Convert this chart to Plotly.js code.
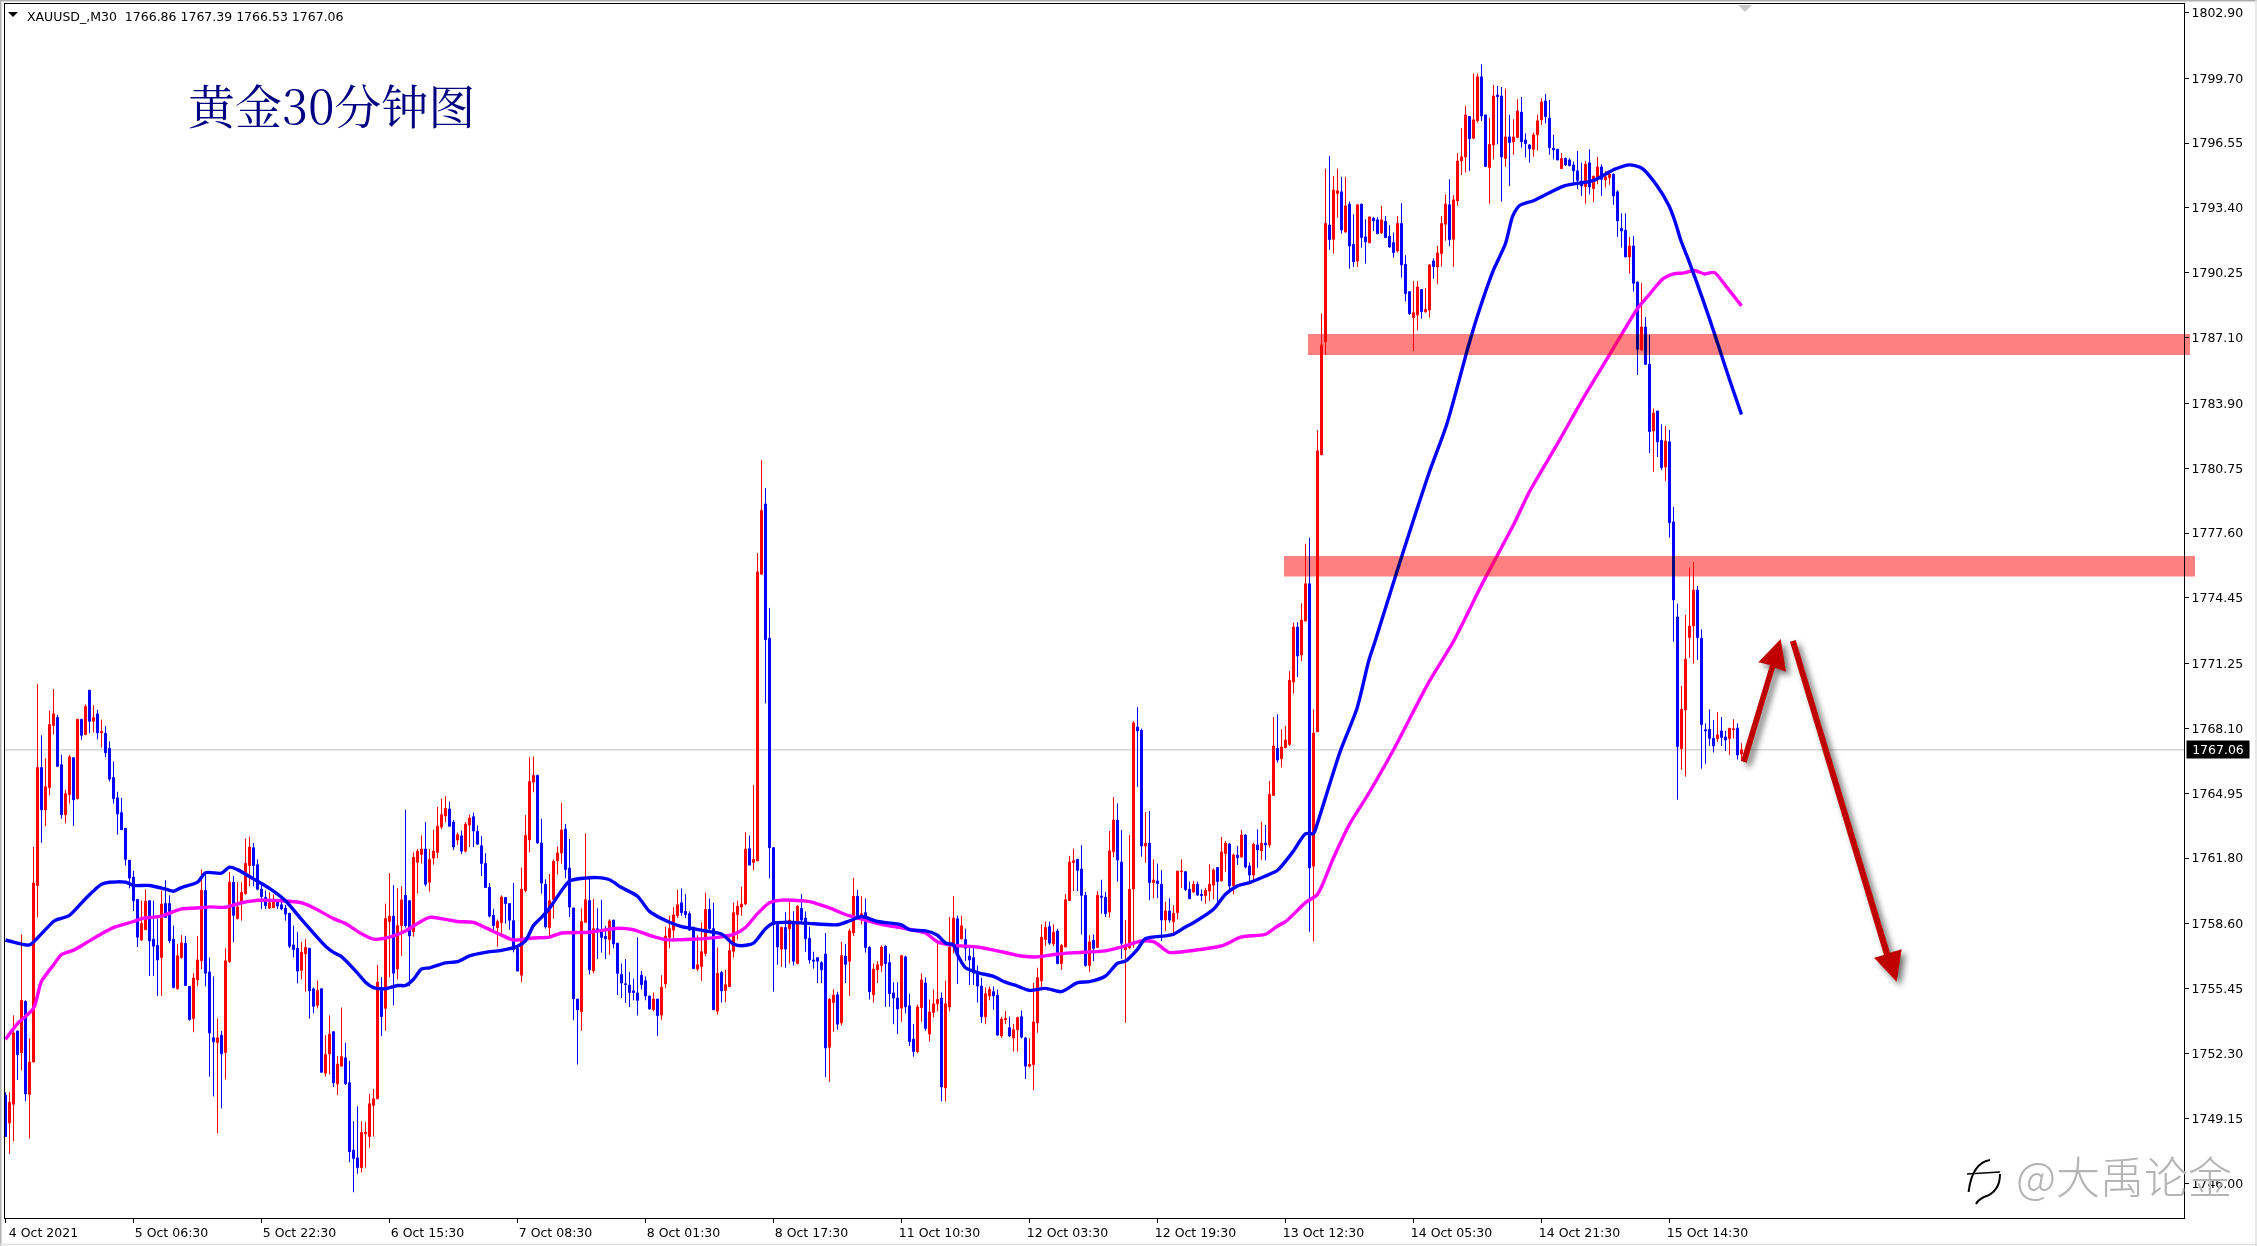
<!DOCTYPE html>
<html><head><meta charset="utf-8">
<script src="https://cdn.plot.ly/plotly-3.0.1.min.js"></script>
<style>html,body{margin:0;padding:0;background:#fff}#c{width:2257px;height:1246px}</style>
</head><body><div id="c"></div>
<script>
const openPrices=[
1750.28,1748.93,1749.84,1753.40,1752.35,1754.84,1750.32,1751.89,1760.47,1766.20,
1764.15,1765.23,1768.25,1768.63,1766.34,1763.91,1764.89,1766.68,1764.69,1768.55,
1767.81,1769.96,1768.45,1768.81,1767.89,1767.87,1767.14,1765.72,1764.73,1764.01,
1763.25,1761.70,1760.87,1759.79,1757.82,1758.32,1759.73,1757.86,1757.56,1756.97,
1759.59,1759.59,1757.86,1755.45,1756.97,1757.66,1755.57,1754.00,1755.89,1756.81,
1760.23,1756.27,1753.07,1752.83,1753.19,1752.35,1756.77,1760.63,1758.86,1759.59,
1760.07,1761.44,1762.30,1761.48,1760.29,1759.89,1759.37,1759.39,1759.73,1759.53,
1759.37,1759.12,1757.58,1757.42,1756.35,1757.15,1757.42,1755.45,1754.64,1755.45,
1751.35,1752.29,1753.36,1750.82,1751.69,1752.09,1750.88,1747.61,1747.23,1746.76,
1748.41,1748.27,1749.78,1750.10,1755.51,1754.50,1758.72,1758.98,1756.41,1758.52,
1759.99,1759.73,1758.22,1761.60,1761.98,1762.24,1760.63,1761.80,1762.08,1763.31,
1763.85,1764.19,1763.55,1762.68,1762.88,1762.14,1763.41,1763.81,1763.10,1762.40,
1761.54,1760.39,1759.02,1758.42,1758.66,1759.89,1759.59,1758.76,1757.42,1756.11,
1760.23,1762.68,1765.50,1765.82,1762.54,1760.53,1758.42,1759.79,1761.67,1762.05,
1763.21,1761.32,1759.38,1754.95,1754.34,1758.68,1759.74,1756.32,1758.37,1758.32,
1757.99,1757.84,1758.79,1757.67,1756.15,1755.69,1755.63,1755.35,1755.25,1756.11,
1755.84,1755.10,1754.43,1754.95,1754.17,1755.69,1757.95,1758.30,1759.00,1759.63,
1759.21,1759.10,1758.43,1756.41,1756.53,1757.17,1759.31,1758.37,1754.36,1756.24,
1755.37,1755.56,1757.27,1759.06,1759.42,1759.57,1762.26,1761.59,1761.67,1775.60,
1779.01,1772.48,1762.31,1758.58,1757.38,1758.43,1758.37,1758.72,1756.68,1759.36,
1758.89,1757.90,1756.85,1756.96,1756.72,1757.14,1752.61,1754.78,1755.16,1753.79,
1757.04,1756.79,1758.16,1759.95,1759.00,1759.15,1757.46,1755.16,1756.37,1756.58,
1757.52,1756.72,1755.25,1755.00,1754.51,1757.00,1754.62,1753.00,1752.40,1754.53,
1755.73,1753.25,1754.30,1754.72,1755.00,1750.63,1754.57,1757.48,1758.85,1757.88,
1757.84,1757.04,1756.96,1756.15,1755.58,1754.09,1755.10,1755.31,1755.14,1753.16,
1753.94,1753.56,1753.06,1753.46,1754.09,1753.06,1751.69,1751.77,1753.79,1755.84,
1757.84,1758.47,1757.63,1758.26,1756.68,1757.48,1759.74,1761.59,1761.74,1761.27,
1759.99,1756.58,1757.80,1757.46,1759.95,1759.90,1759.18,1762.11,1763.64,1761.61,
1757.35,1757.45,1760.30,1768.17,1768.01,1762.39,1762.52,1760.61,1760.69,1760.53,
1758.79,1759.23,1758.71,1759.15,1761.13,1761.14,1760.28,1760.15,1760.53,1760.04,
1759.98,1760.20,1760.49,1761.34,1760.69,1762.02,1762.49,1760.45,1761.95,1761.85,
1762.92,1761.42,1760.98,1762.44,1762.15,1762.53,1762.44,1764.85,1767.14,1766.63,
1767.17,1767.33,1770.36,1773.03,1771.67,1773.32,1775.13,1761.41,1767.94,1781.40,
1786.90,1792.57,1791.88,1794.10,1794.18,1792.23,1793.58,1791.63,1790.82,1793.58,
1791.99,1791.71,1792.90,1792.82,1792.18,1792.75,1792.02,1791.71,1791.31,1792.64,
1790.66,1789.33,1788.07,1788.20,1789.43,1788.35,1788.44,1790.82,1790.53,1791.18,
1792.61,1793.55,1791.88,1793.74,1795.68,1795.88,1797.84,1796.79,1797.63,1799.77,
1797.92,1795.36,1796.46,1798.89,1798.84,1795.80,1796.85,1796.61,1796.82,1798.06,
1796.70,1796.46,1796.25,1796.95,1797.68,1798.60,1797.76,1796.30,1796.25,1795.31,
1795.80,1795.73,1795.49,1795.20,1794.71,1794.44,1795.59,1794.34,1794.87,1795.39,
1794.76,1794.87,1795.04,1794.18,1792.41,1792.31,1791.02,1791.55,1789.80,1786.50,
1787.61,1785.80,1782.56,1783.53,1782.11,1780.81,1782.03,1778.14,1773.52,1767.12,
1769.00,1772.52,1773.08,1774.83,1772.48,1768.04,1768.06,1767.62,1767.61,1767.98,
1767.69,1767.61,1768.04,1768.11,1766.86];
const highPrices=[
1750.42,1750.42,1754.16,1753.40,1758.10,1754.88,1753.03,1762.34,1770.26,1767.77,
1766.66,1768.97,1770.02,1768.77,1766.82,1765.13,1766.82,1766.68,1768.55,1768.55,
1769.27,1769.96,1769.23,1769.01,1768.53,1768.21,1767.47,1766.50,1765.03,1764.73,
1763.25,1761.70,1761.19,1759.79,1759.73,1760.27,1759.73,1759.73,1758.86,1760.23,
1760.73,1759.99,1758.52,1757.62,1758.06,1758.02,1755.57,1756.21,1758.02,1761.24,
1761.03,1756.97,1756.05,1754.00,1753.40,1757.42,1761.13,1760.93,1760.63,1760.63,
1762.74,1762.84,1762.54,1761.74,1760.63,1760.23,1760.13,1760.03,1759.73,1759.73,
1759.53,1759.12,1758.52,1758.22,1757.72,1757.86,1757.42,1755.51,1755.85,1755.45,
1753.19,1754.16,1753.40,1752.19,1754.54,1752.83,1751.95,1749.01,1749.74,1749.01,
1748.97,1750.34,1750.58,1756.61,1756.01,1759.59,1761.07,1760.49,1760.33,1760.43,
1764.15,1759.73,1762.08,1762.24,1762.90,1763.55,1762.24,1763.18,1764.29,1764.69,
1764.81,1764.55,1763.65,1763.04,1763.14,1763.55,1763.91,1764.01,1763.39,1762.88,
1762.04,1760.59,1759.33,1758.82,1759.99,1759.89,1759.59,1760.59,1757.42,1761.34,
1763.89,1766.70,1766.74,1765.86,1763.71,1760.77,1761.03,1761.74,1762.37,1764.48,
1763.46,1762.73,1759.38,1754.95,1759.36,1763.00,1760.79,1759.80,1759.36,1759.78,
1758.51,1758.83,1758.79,1757.67,1756.68,1756.89,1756.26,1755.94,1757.95,1756.32,
1756.05,1755.10,1755.27,1754.95,1756.11,1758.47,1759.00,1759.42,1760.26,1760.33,
1760.05,1759.21,1758.47,1758.05,1758.68,1760.12,1759.84,1759.63,1757.46,1756.32,
1756.37,1757.95,1759.63,1759.73,1760.41,1763.06,1762.90,1765.36,1776.63,1781.14,
1779.79,1773.96,1762.31,1758.58,1758.47,1759.17,1759.69,1759.21,1759.52,1760.05,
1759.21,1758.47,1757.25,1756.96,1756.79,1758.16,1755.00,1755.42,1755.31,1757.73,
1757.63,1758.37,1760.83,1760.26,1759.95,1759.84,1757.52,1756.68,1756.79,1757.56,
1757.56,1757.14,1755.77,1755.77,1757.10,1757.06,1755.21,1753.73,1754.68,1756.20,
1756.00,1754.93,1755.42,1757.73,1755.27,1755.84,1758.94,1759.95,1759.00,1759.00,
1758.37,1757.52,1757.52,1756.58,1755.98,1755.52,1755.56,1755.56,1755.42,1754.09,
1754.36,1754.09,1753.73,1754.09,1754.40,1753.10,1753.04,1755.73,1756.47,1758.58,
1758.72,1758.72,1758.58,1758.37,1757.63,1760.05,1761.91,1762.26,1761.74,1762.43,
1760.16,1758.05,1758.09,1760.20,1760.75,1760.16,1763.12,1764.77,1764.46,1763.17,
1758.79,1762.92,1768.46,1769.14,1768.09,1764.04,1764.09,1761.74,1761.53,1761.21,
1759.67,1759.85,1759.51,1761.17,1761.74,1761.17,1760.66,1760.69,1760.66,1760.28,
1760.36,1761.50,1761.30,1761.37,1762.83,1762.63,1762.52,1762.02,1762.39,1763.17,
1762.96,1761.58,1762.55,1763.20,1763.56,1763.41,1765.55,1768.66,1768.79,1768.06,
1768.22,1770.89,1773.24,1773.27,1774.18,1777.08,1777.37,1769.03,1782.60,1788.26,
1795.31,1795.93,1794.95,1795.31,1794.91,1794.91,1793.71,1793.09,1793.58,1793.61,
1792.85,1792.98,1792.96,1792.96,1793.50,1793.01,1792.56,1792.20,1793.01,1793.63,
1791.10,1789.33,1789.85,1789.85,1789.43,1789.50,1790.66,1790.95,1791.55,1793.01,
1794.06,1794.79,1794.03,1796.06,1797.27,1798.36,1797.87,1799.93,1799.93,1800.38,
1797.92,1797.79,1799.38,1799.33,1799.28,1799.20,1797.92,1797.71,1798.68,1798.79,
1797.03,1796.49,1797.06,1797.92,1798.73,1798.94,1798.65,1796.95,1796.25,1796.07,
1795.85,1795.81,1795.65,1796.17,1795.59,1795.68,1796.25,1794.96,1795.88,1795.52,
1795.20,1795.12,1795.07,1794.26,1793.14,1793.14,1791.99,1792.04,1789.80,1789.74,
1788.10,1787.23,1783.65,1783.53,1782.88,1782.80,1782.61,1778.87,1774.17,1770.17,
1773.62,1775.92,1776.19,1775.03,1772.92,1768.35,1769.03,1768.51,1768.90,1768.66,
1767.98,1768.11,1768.55,1768.35,1767.39];
const lowPrices=[
1748.27,1747.43,1748.03,1751.02,1751.49,1749.98,1748.17,1751.89,1758.92,1762.54,
1763.35,1764.85,1767.81,1766.26,1763.71,1763.49,1764.45,1763.37,1764.65,1767.55,
1767.77,1767.87,1767.91,1767.57,1767.18,1766.70,1765.52,1764.45,1762.94,1763.18,
1761.44,1760.33,1759.23,1757.48,1757.78,1758.32,1756.07,1756.07,1755.10,1755.10,
1758.92,1757.66,1755.47,1755.41,1756.91,1755.61,1753.90,1753.34,1755.57,1756.41,
1755.57,1751.18,1750.22,1748.41,1749.64,1751.04,1756.71,1757.72,1758.82,1758.76,
1760.03,1760.43,1760.43,1760.23,1759.33,1759.33,1759.33,1759.39,1759.33,1759.27,
1758.76,1757.42,1756.97,1755.71,1755.91,1755.31,1754.00,1754.26,1754.50,1751.39,
1751.18,1751.29,1750.68,1750.28,1751.69,1750.78,1747.02,1745.56,1746.46,1746.52,
1746.76,1747.73,1748.27,1750.10,1753.15,1753.40,1756.01,1754.64,1755.91,1757.05,
1758.42,1755.57,1757.98,1760.07,1761.54,1760.43,1760.17,1761.48,1761.80,1763.20,
1763.55,1763.35,1762.20,1762.44,1762.00,1762.08,1762.34,1762.34,1762.44,1760.93,
1760.37,1758.92,1758.28,1757.48,1758.12,1758.62,1758.32,1757.22,1756.31,1755.77,
1760.13,1762.08,1765.00,1762.50,1760.07,1758.38,1757.98,1758.86,1761.00,1761.53,
1760.83,1758.94,1753.92,1751.77,1753.41,1758.68,1756.15,1756.20,1756.89,1757.21,
1756.89,1757.10,1757.42,1755.16,1755.00,1754.76,1754.57,1754.89,1754.15,1755.42,
1754.89,1754.43,1754.36,1753.16,1753.94,1755.48,1757.42,1757.73,1758.89,1759.00,
1758.89,1758.26,1756.41,1756.32,1755.84,1757.04,1758.26,1754.43,1754.19,1754.78,
1754.80,1755.52,1756.96,1757.84,1759.00,1759.52,1761.46,1761.21,1761.67,1775.60,
1769.32,1760.83,1755.31,1756.62,1756.51,1756.47,1756.68,1756.58,1756.64,1758.72,
1757.25,1756.68,1756.43,1755.73,1755.73,1751.16,1750.93,1753.37,1753.46,1753.67,
1755.73,1755.10,1758.01,1758.89,1758.58,1757.21,1754.93,1754.78,1755.73,1756.26,
1754.57,1754.57,1753.73,1753.25,1753.84,1754.26,1752.68,1752.15,1752.32,1753.84,
1753.41,1752.89,1754.05,1754.36,1749.98,1749.98,1754.36,1757.17,1755.69,1757.84,
1756.79,1755.63,1755.63,1754.78,1753.79,1753.73,1754.89,1754.43,1753.16,1753.06,
1753.73,1753.10,1752.40,1752.40,1753.04,1751.06,1751.62,1750.53,1753.31,1755.52,
1757.52,1757.59,1757.52,1756.64,1756.37,1757.48,1759.74,1760.20,1760.20,1758.09,
1756.53,1756.26,1756.79,1757.42,1759.10,1758.94,1758.91,1761.85,1760.66,1756.91,
1753.80,1757.37,1757.45,1765.26,1761.87,1761.58,1759.75,1759.85,1759.85,1757.77,
1758.26,1758.66,1758.02,1758.82,1760.36,1760.20,1759.80,1760.12,1759.96,1759.72,
1759.59,1759.72,1759.80,1759.55,1760.69,1761.14,1760.23,1760.04,1761.47,1761.82,
1761.30,1760.61,1760.72,1761.34,1761.71,1761.69,1762.31,1764.82,1766.44,1766.20,
1767.14,1767.25,1769.79,1770.60,1771.38,1773.32,1758.22,1757.74,1767.94,1781.40,
1786.26,1791.36,1791.18,1792.93,1792.15,1792.20,1790.45,1790.53,1790.53,1791.47,
1790.69,1791.67,1792.28,1792.12,1792.15,1791.93,1791.47,1790.99,1791.23,1790.01,
1788.85,1788.20,1786.45,1787.45,1788.02,1788.31,1788.07,1789.96,1789.69,1790.55,
1791.80,1791.55,1790.53,1793.50,1795.00,1795.12,1795.20,1796.74,1797.55,1797.63,
1795.39,1793.61,1795.76,1796.49,1793.71,1795.39,1794.47,1795.98,1796.79,1796.33,
1795.85,1795.60,1795.89,1796.20,1797.43,1797.51,1795.98,1795.76,1795.72,1795.28,
1795.44,1795.41,1794.63,1794.31,1793.98,1793.61,1794.06,1793.69,1794.55,1793.98,
1794.39,1794.52,1793.55,1791.99,1791.47,1790.99,1790.21,1789.33,1785.28,1786.45,
1785.77,1781.49,1780.58,1781.30,1780.65,1780.13,1777.38,1772.32,1764.64,1766.09,
1765.76,1771.54,1771.25,1771.43,1766.15,1766.39,1767.25,1766.93,1767.45,1767.25,
1767.01,1766.81,1767.62,1766.59,1766.53];
const closePrices=[
1748.27,1749.94,1753.30,1752.25,1754.88,1750.34,1751.89,1760.59,1766.20,1764.15,
1765.27,1768.29,1768.81,1766.26,1763.91,1764.93,1766.72,1764.63,1768.55,1767.77,
1769.17,1768.45,1768.63,1767.89,1767.95,1766.92,1765.64,1764.69,1763.95,1763.18,
1761.74,1760.83,1759.73,1757.96,1758.62,1759.71,1757.78,1757.52,1756.85,1759.57,
1758.92,1757.78,1755.51,1757.05,1757.68,1755.61,1753.96,1755.97,1756.85,1760.23,
1756.21,1753.30,1752.87,1753.07,1752.29,1756.81,1760.63,1759.02,1759.43,1760.13,
1761.54,1762.34,1761.44,1760.29,1759.93,1759.49,1759.63,1759.79,1759.47,1759.33,
1759.08,1757.52,1757.36,1756.31,1757.22,1757.46,1755.35,1754.60,1755.37,1751.39,
1752.25,1753.24,1750.88,1751.79,1752.15,1750.84,1747.53,1747.21,1746.76,1748.47,
1748.47,1749.86,1750.10,1755.77,1754.10,1758.86,1758.98,1756.21,1758.52,1759.77,
1758.52,1758.02,1761.84,1762.14,1762.24,1760.53,1761.74,1762.14,1763.35,1763.91,
1764.21,1763.35,1762.34,1762.94,1762.14,1763.45,1763.75,1763.12,1762.48,1761.54,
1760.37,1758.98,1758.52,1758.72,1759.91,1759.59,1758.78,1757.36,1756.31,1760.29,
1762.90,1765.52,1765.82,1762.54,1760.59,1758.46,1759.73,1761.64,1762.05,1763.17,
1761.25,1759.42,1754.97,1754.43,1758.72,1759.78,1756.37,1758.37,1758.30,1757.95,
1757.88,1758.75,1757.63,1756.20,1755.73,1755.66,1755.27,1755.27,1754.89,1755.65,
1755.10,1754.47,1754.95,1754.15,1755.52,1758.01,1758.37,1759.04,1759.53,1759.15,
1759.06,1758.30,1756.43,1756.62,1757.25,1759.31,1758.37,1754.43,1756.20,1755.35,
1755.65,1757.31,1759.15,1759.46,1759.57,1762.24,1761.46,1761.74,1775.71,1778.70,
1772.42,1762.31,1758.58,1757.48,1758.43,1757.38,1758.79,1756.79,1759.46,1758.79,
1757.88,1756.85,1756.79,1756.79,1756.37,1752.57,1754.93,1755.14,1753.73,1757.06,
1756.64,1758.26,1759.95,1759.00,1759.10,1757.46,1755.31,1756.41,1756.62,1757.48,
1756.68,1755.21,1755.00,1754.47,1757.06,1754.57,1752.89,1752.40,1754.57,1755.88,
1753.52,1754.32,1754.72,1754.93,1750.68,1754.72,1757.48,1758.89,1757.10,1758.51,
1757.42,1756.85,1756.22,1755.58,1754.09,1755.21,1755.42,1755.10,1753.20,1753.98,
1754.00,1753.16,1753.46,1754.05,1753.10,1751.69,1751.77,1753.84,1755.99,1757.95,
1758.43,1757.67,1758.20,1756.68,1757.56,1759.78,1761.61,1761.67,1761.21,1759.99,
1756.58,1757.73,1757.42,1759.99,1759.90,1759.10,1762.15,1763.65,1761.71,1757.66,
1757.48,1760.28,1768.37,1767.98,1762.39,1762.52,1760.61,1760.74,1760.56,1758.79,
1759.23,1758.79,1759.12,1761.17,1761.17,1760.28,1759.83,1760.53,1760.01,1759.98,
1760.23,1760.53,1761.22,1760.66,1762.10,1762.52,1760.45,1761.95,1761.82,1762.92,
1761.37,1760.98,1762.47,1762.20,1762.52,1762.44,1764.90,1767.25,1766.57,1767.20,
1767.54,1770.45,1773.03,1771.62,1773.37,1775.13,1761.33,1767.88,1781.59,1786.74,
1792.64,1791.86,1794.27,1794.23,1792.33,1793.50,1791.55,1790.79,1793.55,1791.96,
1791.75,1792.96,1792.77,1792.15,1792.82,1791.96,1791.50,1791.23,1792.64,1790.63,
1789.24,1788.26,1788.31,1789.56,1788.36,1788.47,1790.63,1790.55,1791.21,1792.64,
1793.59,1791.86,1793.79,1795.68,1795.88,1797.92,1796.77,1797.68,1799.77,1797.87,
1795.41,1796.49,1798.84,1798.81,1795.88,1796.85,1796.58,1796.85,1798.11,1796.62,
1796.53,1796.28,1796.95,1797.63,1798.55,1797.84,1796.33,1796.22,1795.73,1795.80,
1795.49,1795.46,1795.20,1794.74,1794.47,1795.52,1794.42,1794.94,1795.39,1794.79,
1794.91,1795.04,1793.98,1792.77,1792.28,1791.02,1791.55,1789.74,1786.53,1787.61,
1785.80,1782.53,1783.43,1782.03,1780.78,1782.07,1778.10,1774.35,1767.22,1769.03,
1771.46,1773.08,1774.83,1772.52,1768.29,1767.98,1767.62,1767.25,1767.79,1767.66,
1767.54,1768.11,1768.08,1766.81,1767.06];
const blueMaIndex=[0,2,6,8,12,13,16,20,24,26,30,32,36,40,42,44,48,50,54,56,58,62,66,70,74,80,82,84,88,90,92,95,98,100,102,104,106,110,113,116,120,124,128,130,132,134,136,141,145,148,151,154,158,161,166,169,172,175,179,182,184,187,190,192,195,200,208,211,214,218,224,226,230,233,235,237,238,240,243,247,250,253,256,260,264,268,271,275,278,280,283,285,290,292,295,297,302,305,308,311,315,318,322,325,327,328,330,333.7,337.9,340.8,342.4,348.2,355.8,360.3,365.8,368.3,371.9,375,376.8,378.6,382,389.7,396.9,402.2,406,409.1,412.8,415.9,417.5,418.8,420.7,422.7,425.9,428.5,431.1,434];
const blueMa=[1757.82,1757.72,1757.58,1757.92,1758.72,1758.82,1759.02,1759.83,1760.53,1760.63,1760.63,1760.47,1760.47,1760.29,1760.19,1760.37,1760.63,1761.09,1761.07,1761.36,1761.24,1760.79,1760.33,1759.73,1758.82,1757.52,1757.22,1757.01,1756.21,1755.77,1755.51,1755.45,1755.61,1755.61,1755.91,1756.41,1756.47,1756.71,1756.77,1757.05,1757.22,1757.32,1757.52,1757.78,1758.52,1758.92,1759.36,1760.68,1760.83,1760.85,1760.75,1760.37,1759.95,1759.21,1758.68,1758.47,1758.37,1758.26,1758.11,1757.63,1757.54,1757.67,1758.37,1758.64,1758.68,1758.64,1758.56,1758.75,1758.96,1758.72,1758.56,1758.32,1758.26,1758.05,1757.67,1757.59,1757.10,1756.47,1756.24,1756.05,1755.77,1755.58,1755.37,1755.47,1755.31,1755.75,1755.80,1756.07,1756.69,1756.80,1757.37,1757.89,1758.02,1758.10,1758.45,1758.66,1759.31,1760.04,1760.45,1760.61,1760.93,1761.21,1762.15,1762.99,1763.00,1763.50,1764.74,1767.00,1769.10,1771.38,1772.34,1775.94,1780.47,1782.87,1786.74,1788.34,1790.34,1791.67,1793.00,1793.53,1793.75,1794.47,1794.73,1795.27,1795.49,1795.33,1794.50,1793.49,1792.67,1791.84,1790.90,1789.84,1788.07,1786.54,1785.00,1783.36];
const magentaMaIndex=[0,3,7,9,12,14,17,20,24,27,32,34,39,44,49,51,55,59,63,69,74,77,82,85,89,92,96,100,103,106,109,113,117,120,124,127,132,136,139,146,153,157,161,165,172,178,182,185,188,191,194,199,201,206,210,215,219,225,230,233,237,243,249,254,258,263,267,275,279,284,287,290,291,299,304,309,315,318,320,325,328,332,336,340.6,346.9,355.8,362,369.2,377.2,380.8,388,394.2,400.4,408.1,411.2,414.4,417,419.6,422.2,424.8,427.2,430.1,434];
const magentaMa=[1752.99,1753.76,1754.50,1755.81,1756.61,1757.11,1757.32,1757.66,1758.12,1758.42,1758.72,1758.86,1758.98,1759.33,1759.39,1759.43,1759.41,1759.63,1759.75,1759.73,1759.63,1759.39,1758.86,1758.62,1758.12,1757.86,1757.96,1758.26,1758.62,1758.92,1758.86,1758.72,1758.68,1758.42,1758.06,1757.82,1757.92,1757.96,1758.16,1758.20,1758.39,1758.32,1758.05,1757.84,1757.86,1757.95,1758.09,1758.43,1759.10,1759.63,1759.76,1759.73,1759.69,1759.38,1759.06,1758.79,1758.58,1758.37,1758.16,1757.73,1757.56,1757.48,1757.25,1757.04,1757.00,1757.14,1757.20,1757.29,1757.48,1757.77,1757.74,1757.32,1757.21,1757.37,1757.53,1757.97,1758.10,1758.50,1758.71,1759.64,1760.04,1761.82,1763.44,1764.88,1767.03,1770.34,1772.34,1775.14,1778.07,1779.54,1781.94,1784.07,1786.07,1788.54,1789.25,1789.96,1790.19,1790.24,1790.36,1790.19,1790.26,1789.60,1788.64];
const timeTicks=["4 Oct 2021","5 Oct 06:30","5 Oct 22:30","6 Oct 15:30","7 Oct 08:30","8 Oct 01:30","8 Oct 17:30","11 Oct 10:30","12 Oct 03:30","12 Oct 19:30","13 Oct 12:30","14 Oct 05:30","14 Oct 21:30","15 Oct 14:30"];
const barsPerTick=32;
const priceTicks=[1802.90,1799.70,1796.55,1793.40,1790.25,1787.10,1783.90,1780.75,1777.60,1774.45,1771.25,1768.10,1764.95,1761.80,1758.60,1755.45,1752.30,1749.15,1746.00];
const lastPrice=1767.06;
const headerText="XAUUSD_,M30\u00a0\u00a01766.86 1767.39 1766.53 1767.06";
const titleText="黄金30分钟图";
const watermarkText="@大禹论金";

const W=2257,H=1246,mL=5,mR=73,mT=4,mB=28;
const fx=x=>(x-mL)/(W-mL-mR), fy=y=>1-(y-mT)/(H-mT-mB);
const pth=(cmds)=>cmds.map(c=>c[0]+(c.length>1?' '+c.slice(1).map((v,j)=>(j%2?fy(v):fx(v)).toFixed(6)).join(','):'')).join(' ');
const ps=(path,fill,line,w)=>({type:'path',xref:'paper',yref:'paper',path:pth(path),fillcolor:fill,line:{color:line||fill,width:w||0},layer:'above'});
const font={family:'"DejaVu Sans",sans-serif',size:12.5,color:'#000'};
const band=(x0,x1,y0,y1)=>({type:'rect',xref:'paper',yref:'paper',x0:fx(x0),x1:fx(x1),y0:fy(y0),y1:fy(y1),fillcolor:'#ff8080',line:{width:0},layer:'above'});
const xIdx=openPrices.map((_,i)=>i);

const traces=[
 {type:'candlestick',x:xIdx,open:openPrices,high:highPrices,low:lowPrices,close:closePrices,
  increasing:{line:{color:'#ff0000',width:1},fillcolor:'#ff0000'},
  decreasing:{line:{color:'#0000ff',width:1},fillcolor:'#0000ff'},
  whiskerwidth:0,hoverinfo:'skip',showlegend:false},
 {type:'scatter',mode:'lines',x:magentaMaIndex,y:magentaMa,line:{color:'#ff00ff',width:3.4,shape:'spline',smoothing:0.7},hoverinfo:'skip',showlegend:false},
 {type:'scatter',mode:'lines',x:blueMaIndex,y:blueMa,line:{color:'#0000ff',width:3.4,shape:'spline',smoothing:0.7},hoverinfo:'skip',showlegend:false}
];
const layout={
 width:W,height:H,margin:{l:mL,r:mR,t:mT,b:mB,pad:0},paper_bgcolor:'#fff',plot_bgcolor:'#fff',showlegend:false,dragmode:false,
 boxgap:0.3,
 xaxis:{type:'linear',range:[-0.125,544.625],rangeslider:{visible:false},showgrid:false,zeroline:false,
  tickmode:'array',tickvals:timeTicks.map((_,k)=>k*barsPerTick),ticktext:timeTicks,ticklabelshift:38,ticklabelstandoff:-1,
  ticks:'outside',ticklen:4,tickcolor:'#000',tickfont:font,showline:true,linecolor:'#000',linewidth:1,mirror:true},
 yaxis:{side:'right',range:[1744.31,1803.31],showgrid:false,zeroline:false,
  tickmode:'array',tickvals:priceTicks,ticktext:priceTicks.map(v=>v.toFixed(2)),
  ticks:'outside',ticklen:4,tickcolor:'#000',tickfont:font,showline:true,linecolor:'#000',linewidth:1,mirror:true},
 shapes:[
  {type:'line',xref:'paper',yref:'y',x0:0,x1:1,y0:lastPrice,y1:lastPrice,line:{color:'#c0c0c0',width:1},layer:'below'},
  band(1308,2190,334,355),
  band(1284,2195,556,576.5),
  ps([['M',1741,761],['L',1770,665],['L',1758.3,662.3],['L',1780.7,639],['L',1786,671.7],['L',1775,667.7],['L',1746.7,762.7],['Z']],'#c00000'),
  ps([['M',1790,641.7],['L',1795.7,640],['L',1890,952.7],['L',1901.7,949.3],['L',1896.7,981.7],['L',1874,957.7],['L',1884,955],['Z']],'#c00000'),
  ps([['M',8,12],['L',18,12],['L',13,17],['Z']],'#000'),
  ps([['M',1738,5],['L',1752,5],['L',1745,12],['Z']],'#c8c8c8'),
  ps([['M',1968.6,1192],['Q',1972,1163,1990,1160]],'rgba(0,0,0,0)','#000',2),
  ps([['M',1967,1174],['L',2000,1172]],'rgba(0,0,0,0)','#000',1.5),
  ps([['M',2000,1174],['Q',2000,1192,1984,1197],['Q',1978,1200,1976,1204]],'rgba(0,0,0,0)','#000',2),
  {type:'rect',xref:'paper',yref:'paper',x0:fx(0.75),x1:fx(W+4),y0:fy(0.75),y1:fy(H+4),fillcolor:'rgba(0,0,0,0)',line:{color:'#b0b0b0',width:1.5},layer:'above'},
  {type:'line',xref:'paper',yref:'paper',x0:fx(W-1),x1:fx(W-1),y0:fy(0),y1:fy(H),line:{color:'#e0e0e0',width:1.5},layer:'above'},
  {type:'line',xref:'paper',yref:'paper',x0:fx(0),x1:fx(W),y0:fy(H-1.5),y1:fy(H-1.5),line:{color:'#e0e0e0',width:1.5},layer:'above'}
 ],
 annotations:[
  {xref:'paper',yref:'paper',x:fx(24.5),y:fy(16),xanchor:'left',yanchor:'middle',showarrow:false,text:headerText,font},
  {xref:'paper',yref:'paper',x:fx(185.5),y:fy(103),xanchor:'left',yanchor:'middle',showarrow:false,text:titleText,font:{family:'"Noto Serif CJK SC","Liberation Serif","Noto Sans CJK SC",serif',size:47,color:'#000080'}},
  {xref:'paper',yref:'y',x:fx(2185.5),y:lastPrice,xanchor:'left',yanchor:'middle',showarrow:false,text:lastPrice.toFixed(2),bgcolor:'#000',width:62,height:17,borderpad:0,font:{family:font.family,size:12.5,color:'#fff'}},
  {xref:'paper',yref:'paper',x:fx(2124),y:fy(1175),xanchor:'center',yanchor:'middle',showarrow:false,text:watermarkText,font:{family:'"Noto Sans CJK SC",sans-serif',size:44,weight:300,color:'#b4b4b4'}}
 ]
};
Plotly.newPlot('c',traces,layout,{displayModeBar:false,staticPlot:true}).then(()=>{
 const paths=document.querySelectorAll('.layer-above .shapelayer path');
 paths.forEach((p,i)=>{
  if(i<2){p.style.mixBlendMode='multiply';}
  if(i===2||i===3){p.style.filter='drop-shadow(4px 4px 3px rgba(0,0,0,0.55))';}
 });
});
</script></body></html>
